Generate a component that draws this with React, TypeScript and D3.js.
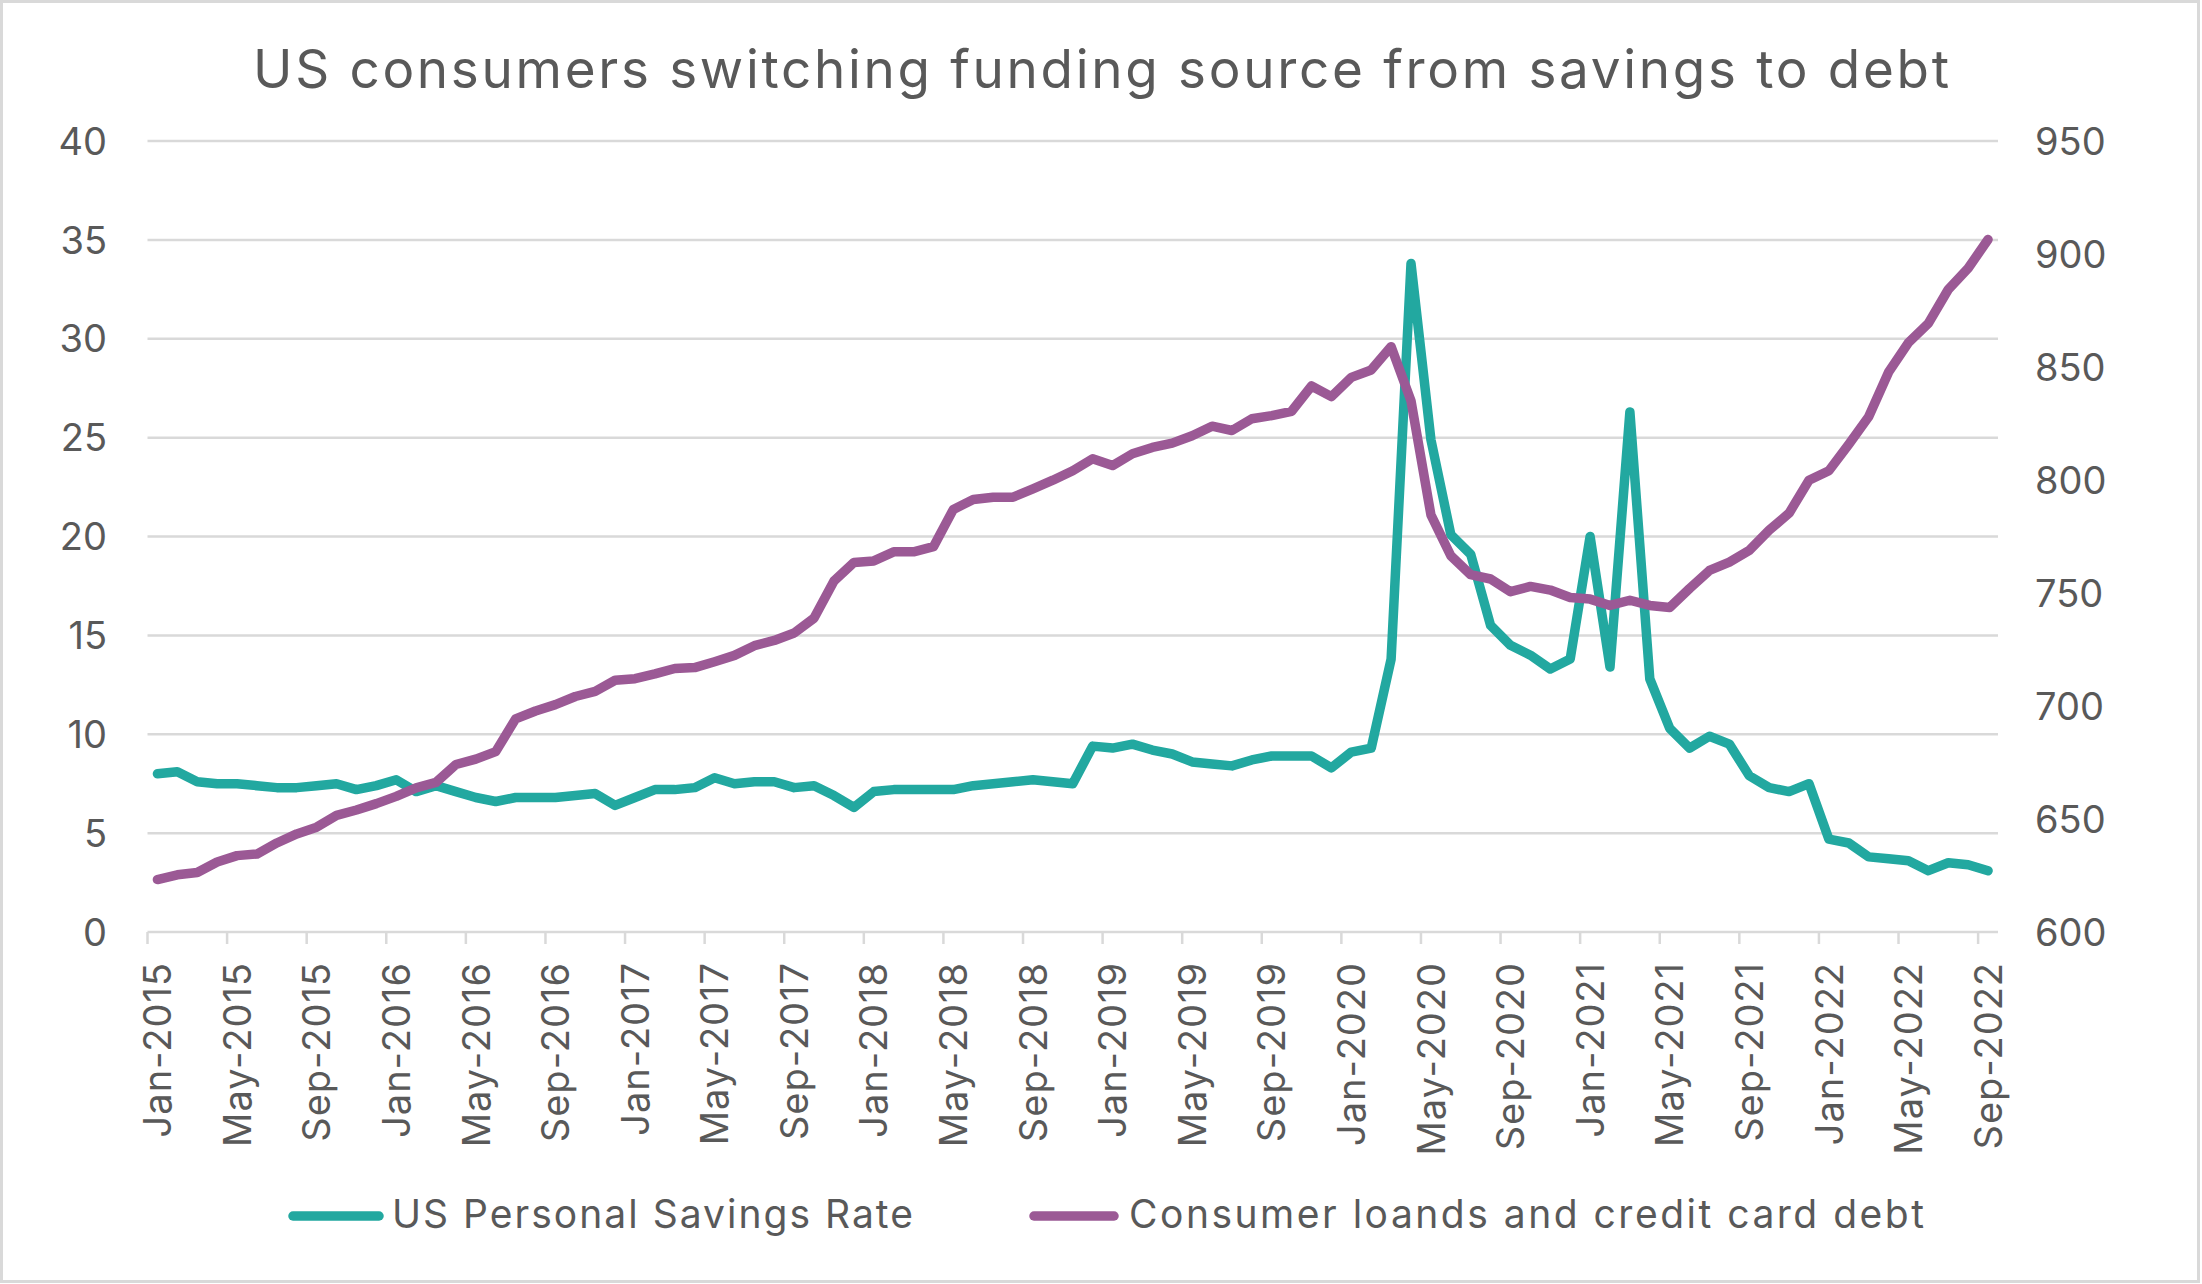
import * as d3 from "d3";

const WIDTH = 2202;
const HEIGHT = 1284;

const TITLE = "US consumers switching funding source from savings to debt";
const SAVINGS_LABEL = "US Personal Savings Rate";
const DEBT_LABEL = "Consumer loands and credit card debt";

// monthly values, Jan-2015 .. Sep-2022
const savingsRate = [
  8.0, 8.1, 7.6, 7.5, 7.5, 7.4, 7.3, 7.3, 7.4, 7.5, 7.2, 7.4,
  7.7, 7.1, 7.4, 7.1, 6.8, 6.6, 6.8, 6.8, 6.8, 6.9, 7.0, 6.4,
  6.8, 7.2, 7.2, 7.3, 7.8, 7.5, 7.6, 7.6, 7.3, 7.4, 6.9, 6.3,
  7.1, 7.2, 7.2, 7.2, 7.2, 7.4, 7.5, 7.6, 7.7, 7.6, 7.5, 9.4,
  9.3, 9.5, 9.2, 9.0, 8.6, 8.5, 8.4, 8.7, 8.9, 8.9, 8.9, 8.3,
  9.1, 9.3, 13.8, 33.8, 24.9, 20.1, 19.1, 15.5, 14.5, 14.0, 13.3, 13.8,
  20.0, 13.4, 26.3, 12.8, 10.3, 9.3, 9.9, 9.5, 7.9, 7.3, 7.1, 7.5,
  4.7, 4.5, 3.8, 3.7, 3.6, 3.1, 3.5, 3.4, 3.1,
];

const consumerDebt = [
  623.2, 625.3, 626.3, 631.0, 633.8, 634.5, 639.4, 643.4, 646.4, 651.6, 654.0, 656.8,
  660.0, 663.8, 666.2, 674.1, 676.5, 679.8, 694.3, 697.8, 700.6, 704.2, 706.5, 711.4,
  712.1, 714.2, 716.6, 717.0, 719.6, 722.4, 726.7, 729.0, 732.3, 738.9, 755.3, 763.5,
  764.2, 768.2, 768.2, 770.5, 787.0, 791.4, 792.4, 792.4, 796.1, 799.9, 804.1, 809.4,
  806.4, 811.6, 814.4, 816.3, 819.6, 823.8, 821.9, 827.1, 828.5, 830.4, 841.6, 836.9,
  845.4, 848.7, 859.0, 835.0, 784.6, 766.5, 758.1, 756.2, 750.6, 752.9, 751.3, 748.0,
  747.3, 744.5, 746.8, 744.5, 743.6, 752.0, 760.0, 763.7, 768.9, 777.8, 785.3, 799.9,
  804.1, 815.8, 828.0, 847.7, 860.8, 869.3, 884.3, 893.7, 906.4,
];

const monthLabels = [
  "Jan-2015", "May-2015", "Sep-2015", "Jan-2016", "May-2016", "Sep-2016",
  "Jan-2017", "May-2017", "Sep-2017", "Jan-2018", "May-2018", "Sep-2018",
  "Jan-2019", "May-2019", "Sep-2019", "Jan-2020", "May-2020", "Sep-2020",
  "Jan-2021", "May-2021", "Sep-2021", "Jan-2022", "May-2022", "Sep-2022",
];

const leftTicks = [0, 5, 10, 15, 20, 25, 30, 35, 40];
const rightTicks = [600, 650, 700, 750, 800, 850, 900, 950];

const TEAL = "#22a8a0";
const PURPLE = "#9b5995";
const TEXT = "#595959";
const GRID = "#d9d9d9";
const FONT = "Inter, 'Noto Sans', sans-serif";

const plot = { left: 147.5, right: 1998, top: 141, bottom: 932 };

export default function App() {
  const x = d3.scaleLinear().domain([0, 93]).range([plot.left, plot.right]);
  const yLeft = d3.scaleLinear().domain([0, 40]).range([plot.bottom, plot.top]);
  const yRight = d3.scaleLinear().domain([600, 950]).range([plot.bottom, plot.top]);

  const savingsLine = d3
    .line<number>()
    .x((_, i) => x(i + 0.5))
    .y((d) => yLeft(d));
  const debtLine = d3
    .line<number>()
    .x((_, i) => x(i + 0.5))
    .y((d) => yRight(d));

  return (
    <div style={{ position: "fixed", left: 0, top: 0 }}>
      <svg width={WIDTH} height={HEIGHT} style={{ display: "block", background: "#fff" }} fontFamily={FONT}>
        <rect x={1.5} y={1.5} width={WIDTH - 5} height={HEIGHT - 4} fill="#fff" stroke={GRID} strokeWidth={3} />

        <text x={1101} y={88} textAnchor="middle" fontSize={53} fill={TEXT} textLength={1696} lengthAdjust="spacing">
          {TITLE}
        </text>

        {leftTicks.map((t) => (
          <g key={t}>
            {t > 0 && (
              <line x1={plot.left} x2={plot.right} y1={yLeft(t)} y2={yLeft(t)} stroke={GRID} strokeWidth={2.5} />
            )}
            <text x={107} y={yLeft(t)} dy="0.36em" textAnchor="end" fontSize={38} fill={TEXT}>
              {t}
            </text>
          </g>
        ))}

        {rightTicks.map((t) => (
          <text key={t} x={2035} y={yRight(t)} dy="0.36em" fontSize={38} fill={TEXT}>
            {t}
          </text>
        ))}

        <line x1={plot.left} x2={plot.right} y1={plot.bottom} y2={plot.bottom} stroke={GRID} strokeWidth={2.5} />
        {monthLabels.map((label, k) => {
          const m = k * 4;
          return (
            <g key={label}>
              <line x1={x(m)} x2={x(m)} y1={plot.bottom} y2={plot.bottom + 12} stroke={GRID} strokeWidth={2.5} />
              <text
                transform={`translate(${x(m + 0.5)},962) rotate(-90)`}
                dy="0.36em"
                textAnchor="end"
                fontSize={38}
                fill={TEXT}
                letterSpacing={1}
              >
                {label}
              </text>
            </g>
          );
        })}

        <path
          d={savingsLine(savingsRate) ?? ""}
          fill="none"
          stroke={TEAL}
          strokeWidth={9.5}
          strokeLinejoin="round"
          strokeLinecap="round"
        />
        <path
          d={debtLine(consumerDebt) ?? ""}
          fill="none"
          stroke={PURPLE}
          strokeWidth={9.5}
          strokeLinejoin="round"
          strokeLinecap="round"
        />

        <g>
          <line x1={293} x2={379} y1={1216} y2={1216} stroke={TEAL} strokeWidth={9.5} strokeLinecap="round" />
          <text x={392} y={1228} fontSize={39} fill={TEXT} textLength={521} lengthAdjust="spacing">
            {SAVINGS_LABEL}
          </text>
          <line x1={1034} x2={1114} y1={1216} y2={1216} stroke={PURPLE} strokeWidth={9.5} strokeLinecap="round" />
          <text x={1129} y={1228} fontSize={39} fill={TEXT} textLength={795} lengthAdjust="spacing">
            {DEBT_LABEL}
          </text>
        </g>
      </svg>
    </div>
  );
}
